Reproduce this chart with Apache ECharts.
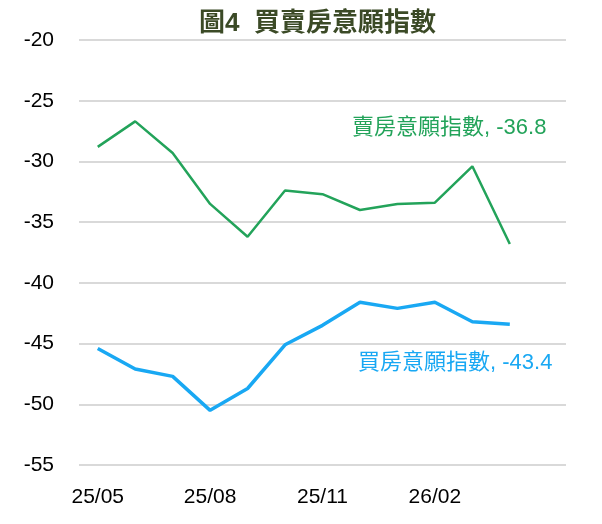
<!DOCTYPE html>
<html>
<head>
<meta charset="utf-8">
<script src="https://cdn.jsdelivr.net/npm/echarts@6/dist/echarts.min.js"></script>
<style>
html,body{margin:0;padding:0;background:#fff;}
#c{width:602px;height:524px;}
</style>
</head>
<body>
<div id="c"></div>
<script>
const categories = ['25/05','25/06','25/07','25/08','25/09','25/10','25/11','25/12','26/01','26/02','26/03','26/04','26/05'];
const sellIndex = [-28.8,-26.7,-29.3,-33.5,-36.2,-32.4,-32.7,-34.0,-33.5,-33.4,-30.4,-36.8,null];
const buyIndex = [-45.4,-47.1,-47.7,-50.5,-48.7,-45.1,-43.5,-41.6,-42.1,-41.6,-43.2,-43.4,null];
const yTicks = [-55,-50,-45,-40,-35,-30,-25,-20];
const sellName = '賣房意願指數';
const buyName = '買房意願指數';
const titleText = '圖4  買賣房意願指數';

const lastOf = a => a.filter(v => v !== null).slice(-1)[0];
const font = '"Liberation Sans", Arial, "Noto Sans CJK TC", sans-serif';
const chart = echarts.init(document.getElementById('c'));
chart.setOption({
  animation: false,
  backgroundColor: '#ffffff',
  grid: {left: 79, right: 36, top: 40, bottom: 59, containLabel: false},
  xAxis: {
    type: 'category',
    data: categories,
    boundaryGap: true,
    axisLine: {show: false},
    axisTick: {show: false},
    axisLabel: {
      interval: (i) => i % 3 === 0 && i < 12,
      color: '#000', fontSize: 21, fontFamily: font, margin: 22
    },
    splitLine: {show: false}
  },
  yAxis: {
    type: 'value',
    min: yTicks[0], max: yTicks[yTicks.length-1], interval: 5,
    axisLine: {show: false},
    axisTick: {show: false},
    axisLabel: {color: '#000', fontSize: 21, fontFamily: font, margin: 25, align: 'right'},
    splitLine: {lineStyle: {color: '#d9d9d9', width: 2}}
  },
  series: [
    {name: sellName, type: 'line', data: sellIndex, symbol: 'none',
     lineStyle: {color: '#23a35a', width: 2.5}, itemStyle: {color: '#23a35a'}},
    {name: buyName, type: 'line', data: buyIndex, symbol: 'none',
     lineStyle: {color: '#19a8f3', width: 3.5}, itemStyle: {color: '#19a8f3'}}
  ],
  graphic: [
    {type: 'text', left: 199, top: 11, style: {text: titleText, fill: '#3b4a26', font: 'bold 26px ' + font}},
    {type: 'text', left: 352, top: 117, style: {text: sellName + ', ' + lastOf(sellIndex), fill: '#23a35a', font: '22px ' + font}},
    {type: 'text', left: 358, top: 352, style: {text: buyName + ', ' + lastOf(buyIndex), fill: '#19a8f3', font: '22px ' + font}}
  ]
});
</script>
</body>
</html>
